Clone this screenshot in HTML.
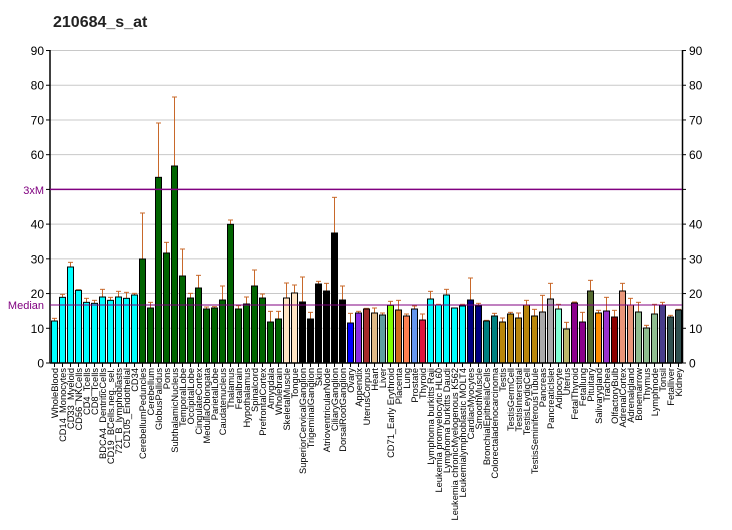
<!DOCTYPE html>
<html><head><meta charset="utf-8"><style>
html,body{margin:0;padding:0;background:#fff;}
svg{display:block;font-family:"Liberation Sans",Arial,sans-serif;}
</style></head><body>
<svg id="c" width="732" height="530" xmlns="http://www.w3.org/2000/svg"></svg>
<script>
(function(){
var names=["WholeBlood","CD14_Monocytes","CD33_Myeloid","CD56_NKCells","CD4_Tcells","CD8_Tcells","BDCA4_DentriticCells","CD19_BCells.neg._sel.","721_B_lymphoblasts","CD105_Endothelial","CD34",
"CerebellumPeduncles","Cerebellum","GlobusPallidus","Pons","SubthalamicNucleus","TemporalLobe","OccipitalLobe","CingulateCortex","MedullaOblongata","ParietalLobe","Caudatenucleus","Thalamus","Fetalbrain","Hypothalamus","Spinalcord","PrefrontalCortex","Amygdala","Wholebrain",
"SkeletalMuscle","Tongue","SuperiorCervicalGanglion","TrigeminalGanglion","Skin","AtrioventricularNode","CiliaryGanglion","DorsalRootGanglion",
"Ovary","Appendix","UterusCorpus","Heart","Liver","CD71_Early Erythroid","Placenta","Lung","Prostate","Thyroid",
"Lymphoma burkitts Raji","Leukemia promyelocytic HL60","Lymphoma burkitts Daudi","Leukemia chronicMyelogenous K562","Leukemialymphoblastic MOLT4",
"CardiacMyocytes","SmoothMuscle","BronchialEpithelialCells","Colorectaladenocarcinoma","Testis","TestisGermCell","TestisInterstitial","TestisLeydigCell","TestisSeminiferousTubule",
"Pancreas","PancreaticIslet","Adipocyte","Uterus","FetalThyroid","Fetallung","Pituitary","Salivarygland","Trachea","OlfactoryBulb","AdrenalCortex","Adrenalgland","Bonemarrow","Thymus","Lymphnode","Tonsil","Fetalliver","Kidney"];
function rep(c,n){var a=[];for(var i=0;i<n;i++)a.push(c);return a;}
var cols=[].concat(rep("#00ffff",11),rep("#006400",18),rep("#ffe4c4",2),rep("#000000",6),
["#0000ff","#8a2be2","#a52a2a","#deb887","#5f9ea0","#7fff00","#d2691e","#ff7f50","#6495ed","#dc143c"],
rep("#00ffff",5),rep("#000080",2),rep("#008080",2),rep("#b8860b",5),rep("#a9a9a9",2),
["#7fffd4","#bdb76b","#8b008b","#8b008b","#556b2f","#ff8c00","#9932cc","#8b0000","#e9967a","#e9967a"],
rep("#8fbc8f",3),["#483d8b","#2f4f4f","#2f4f4f"]);
var tops=[543,472,381,451,487,490,471,481,471,475,465,357,504,112,339,78,408,474,444,507,504,480,253,507,492,438,474,546,537,474,459,486,537,432,453,279,480,549,
519,507,519,525,496,510,528,507,540,477,495,465,504,498,480,498,543,528,546,522,534,495,528,516,477,507,567,489,546,453,519,513,531,453,495,516,564,522,495,531,510];
var errs=[535,463,367,449,475,481,448,472,454,457,460,219,487,-51,307,-129,327,460,406,501,500,438,240,497,471,390,462,514,514,429,435,411,517,424,430,172,438,520,
514,505,504,519,484,481,522,498,522,454,493,448,504,493,414,490,541,520,534,517,519,481,508,466,430,493,547,486,517,421,511,472,511,430,475,487,556,493,487,526,508];
var y0=363,sc=3.472;
function Y(v){return y0-v*sc;}
var s="";
s+='<text x="53" y="27" font-size="16" font-weight="bold" fill="#222">210684_s_at</text>';
for(var v=10;v<=90;v+=10){if(v==50)continue;s+='<line x1="50" x2="682" y1="'+Y(v)+'" y2="'+Y(v)+'" stroke="#c8c8c8" stroke-width="1"/>';}
for(var v=0;v<=90;v+=10){var y=Y(v);
 s+='<line x1="46" x2="50" y1="'+y+'" y2="'+y+'" stroke="#000"/><line x1="682" x2="686" y1="'+y+'" y2="'+y+'" stroke="#000"/>';
 if(v!=50){s+='<text x="44" y="'+(y+4.5)+'" font-size="12" text-anchor="end" fill="#000">'+v+'</text>';
 s+='<text x="689" y="'+(y+4.5)+'" font-size="12" fill="#000">'+v+'</text>';}}
s+='<line x1="50" x2="50" y1="50" y2="363" stroke="#000" stroke-width="1.5"/><line x1="682.5" x2="682.5" y1="50" y2="363" stroke="#000" stroke-width="1.5"/>';
for(var i=0;i<names.length;i++){
 var x=51.5+8*i, bt=140+tops[i]/3, et=140+errs[i]/3, cx=x+3;
 s+='<line x1="'+cx+'" x2="'+cx+'" y1="'+et+'" y2="'+bt+'" stroke="#c8682a"/>';
 s+='<line x1="'+(cx-2.5)+'" x2="'+(cx+2.5)+'" y1="'+et+'" y2="'+et+'" stroke="#c8682a"/>';
 s+='<rect x="'+x+'" y="'+bt+'" width="6" height="'+(363-bt)+'" fill="'+cols[i]+'" stroke="#000" stroke-width="1"/>';
 s+='<line x1="'+cx+'" x2="'+cx+'" y1="363" y2="367" stroke="#000"/>';
 s+='<text transform="translate('+(cx+3.5)+',368) rotate(-90)" font-size="9.3" text-anchor="end" fill="#000">'+names[i]+'</text>';
}
s+='<line x1="50" x2="682" y1="363" y2="363" stroke="#000" stroke-width="1.5"/>';
s+='<line x1="50" x2="682" y1="'+Y(50)+'" y2="'+Y(50)+'" stroke="#800080" stroke-width="1.5"/>';
s+='<line x1="50" x2="682" y1="305" y2="305" stroke="#800080" stroke-width="1"/>';
s+='<text x="44" y="'+(Y(50)+4.5)+'" font-size="11" text-anchor="end" fill="#800080">3xM</text>';
s+='<text x="44" y="309" font-size="11" text-anchor="end" fill="#800080">Median</text>';
document.getElementById("c").innerHTML=s;
})();
</script>
</body></html>
